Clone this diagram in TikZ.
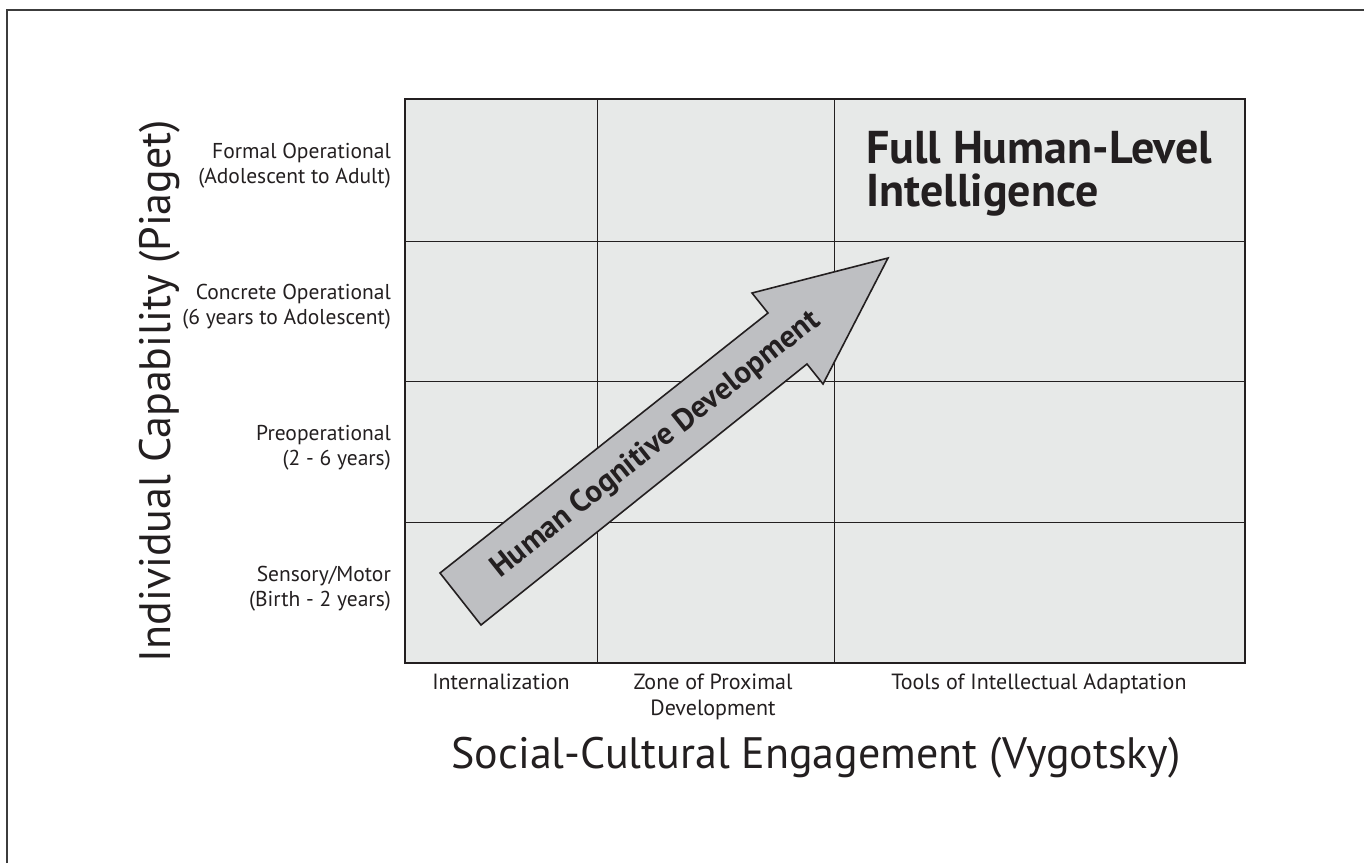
\documentclass[tikz,border=0pt]{standalone}
\usepackage{fontspec}
\setmainfont{PT Sans}
\usepackage{tikz}
\usetikzlibrary{positioning}

\definecolor{ink}{RGB}{35,31,32}
\definecolor{cellfill}{RGB}{231,233,232}
\definecolor{arrowfill}{RGB}{190,191,194}
\definecolor{framegray}{RGB}{60,60,60}

\tikzset{
  stagelabel/.style={anchor=east,align=right,inner sep=0pt,text=ink,
    font=\fontsize{21.5}{25}\selectfont},
  engagelabel/.style={anchor=north,align=center,inner sep=0pt,text=ink,
    font=\fontsize{22}{26}\selectfont},
  axistitle/.style={inner sep=0pt,text=ink,font=\fontsize{44}{50}\selectfont}
}

\begin{document}
\begin{tikzpicture}[x=1pt,y=-1pt]
\useasboundingbox (0,0) rectangle (1364,863);
\draw[framegray,line width=1.5pt] (7,863) -- (7,10) -- (1364,10);

% grid
\coordinate (nw) at (405,99);
\coordinate (se) at (1245,663);
\fill[cellfill] (nw) rectangle (se);
\foreach \x in {597,834}
  \draw[ink,line width=1pt] (\x,99) -- (\x,663);
\foreach \y in {241,381,522}
  \draw[ink,line width=1pt] (405,\y) -- (1245,\y);
\draw[ink,line width=2.2pt] (nw) rectangle (se);

% rows
\node[stagelabel] (formal)   at (391,166) {Formal Operational\\(Adolescent to Adult)};
\node[stagelabel] (concrete) at (391,307) {Concrete Operational\\(6 years to Adolescent)};
\node[stagelabel] (preop)    at (391,448) {Preoperational\\(2 - 6 years)};
\node[stagelabel] (sensory)  at (391,589) {Sensory/Motor\\(Birth - 2 years)};
\node[axistitle,rotate=90] (piaget) at (160,391) {Individual Capability (Piaget)};

% columns
\node[engagelabel] (intern) at (501,674) {Internalization};
\node[engagelabel] (zpd)    at (713,674) {Zone of Proximal\\Development};
\node[engagelabel] (tools)  at (1039,674) {Tools of Intellectual Adaptation};
\node[axistitle] (vygotsky) at (816,758) {Social-Cultural Engagement (Vygotsky)};

% arrow
\coordinate (t1) at (440,573);
\coordinate (t2) at (481,625);
\draw[ink,line width=1.6pt,fill=arrowfill,line join=miter]
  (t1) -- (768,313) -- (752,293) -- (888,258) -- (823,384) -- (807,364) -- (t2) -- cycle;
\node[rotate=38.5,inner sep=0pt,text=ink,font=\bfseries\fontsize{31}{34}\selectfont]
  (grow) at (656,445) {Human Cognitive Development};

\node[anchor=north west,align=left,inner sep=0pt,text=ink,
  font=\bfseries\fontsize{46}{43}\selectfont] (full) at (866,131)
  {Full Human-Level\\Intelligence};
\end{tikzpicture}
\end{document}
